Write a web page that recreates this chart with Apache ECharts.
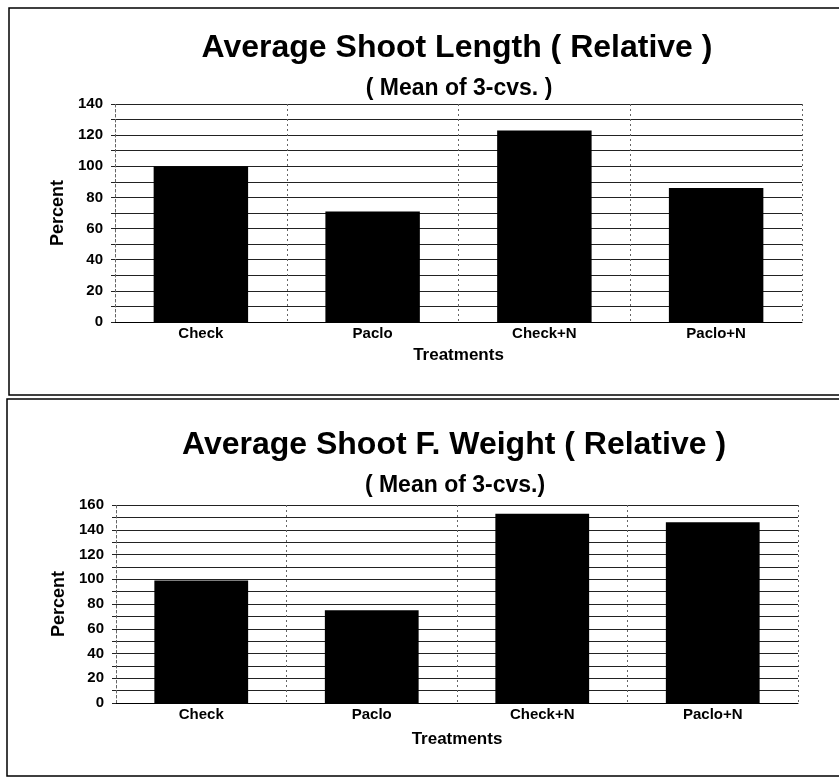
<!DOCTYPE html>
<html><head><meta charset="utf-8">
<script src="https://cdn.jsdelivr.net/npm/echarts@6/dist/echarts.min.js"></script>
<style>html,body{margin:0;padding:0;background:#fff}#c{width:839px;height:778px}</style>
</head><body><div id="c"></div>
<script>
const categories = ['Check', 'Paclo', 'Check+N', 'Paclo+N'];
const lengthValues = [100, 71, 123, 86];
const weightValues = [99, 75, 153, 146];
const lengthTitle = 'Average Shoot Length ( Relative )';
const lengthSub = '( Mean of 3-cvs. )';
const weightTitle = 'Average Shoot F. Weight ( Relative )';
const weightSub = '( Mean of 3-cvs.)';
const yName = 'Percent';
const xName = 'Treatments';

const FONT = '"Liberation Sans", Arial, sans-serif';
const chart = echarts.init(document.getElementById('c'));

function xAx(gi, gap) {
  return {
    type: 'category', gridIndex: gi, data: categories,
    name: xName, nameLocation: 'middle', nameGap: gap,
    nameTextStyle: {fontFamily: FONT, fontWeight: 'bold', fontSize: 17, color: '#000'},
    axisLine: {show: true, lineStyle: {color: '#000', width: 1}},
    axisTick: {show: false},
    axisLabel: {fontFamily: FONT, fontWeight: 'bold', fontSize: 15, color: '#000', margin: 4},
    splitLine: {show: true, lineStyle: {color: '#666', type: [2, 3], width: 1}}
  };
}
function yAx(gi, max) {
  return {
    type: 'value', gridIndex: gi, min: 0, max: max, interval: 10,
    name: yName, nameLocation: 'middle', nameGap: 48,
    nameTextStyle: {fontFamily: FONT, fontWeight: 'bold', fontSize: 18, color: '#000'},
    axisLine: {show: true, lineStyle: {color: '#666', type: [2, 3]}},
    axisTick: {show: true, length: 4, lineStyle: {color: '#222'}},
    axisLabel: {fontFamily: FONT, fontWeight: 'bold', fontSize: 15, color: '#000', margin: 12,
      formatter: v => (v % 20 === 0 ? String(v) : '')},
    splitLine: {show: true, lineStyle: {color: '#222', width: 1}}
  };
}

chart.setOption({
  backgroundColor: '#fff',
  animation: false,
  title: [
    {text: lengthTitle, left: 452, top: 27, textAlign: 'center',
      textStyle: {fontFamily: FONT, fontWeight: 'bold', fontSize: 32, color: '#000'}},
    {text: lengthSub, left: 454, top: 72, textAlign: 'center',
      textStyle: {fontFamily: FONT, fontWeight: 'bold', fontSize: 23, color: '#000'}},
    {text: weightTitle, left: 449, top: 424, textAlign: 'center',
      textStyle: {fontFamily: FONT, fontWeight: 'bold', fontSize: 32, color: '#000'}},
    {text: weightSub, left: 450, top: 469, textAlign: 'center',
      textStyle: {fontFamily: FONT, fontWeight: 'bold', fontSize: 23, color: '#000'}}
  ],
  graphic: [
    {type: 'rect', shape: {x: 9, y: 8, width: 840, height: 387}, style: {fill: null, stroke: '#000', lineWidth: 1.5}, silent: true},
    {type: 'rect', shape: {x: 7, y: 399, width: 840, height: 377}, style: {fill: null, stroke: '#000', lineWidth: 1.5}, silent: true}
  ],
  grid: [
    {left: 115, right: 37, top: 104, height: 218},
    {left: 116, right: 41, top: 505, height: 198}
  ],
  xAxis: [xAx(0, 25), xAx(1, 28)],
  yAxis: [yAx(0, 140), yAx(1, 160)],
  series: [
    {type: 'bar', xAxisIndex: 0, yAxisIndex: 0, data: lengthValues, barWidth: '55%', itemStyle: {color: '#000'}},
    {type: 'bar', xAxisIndex: 1, yAxisIndex: 1, data: weightValues, barWidth: '55%', itemStyle: {color: '#000'}}
  ]
});
</script></body></html>
